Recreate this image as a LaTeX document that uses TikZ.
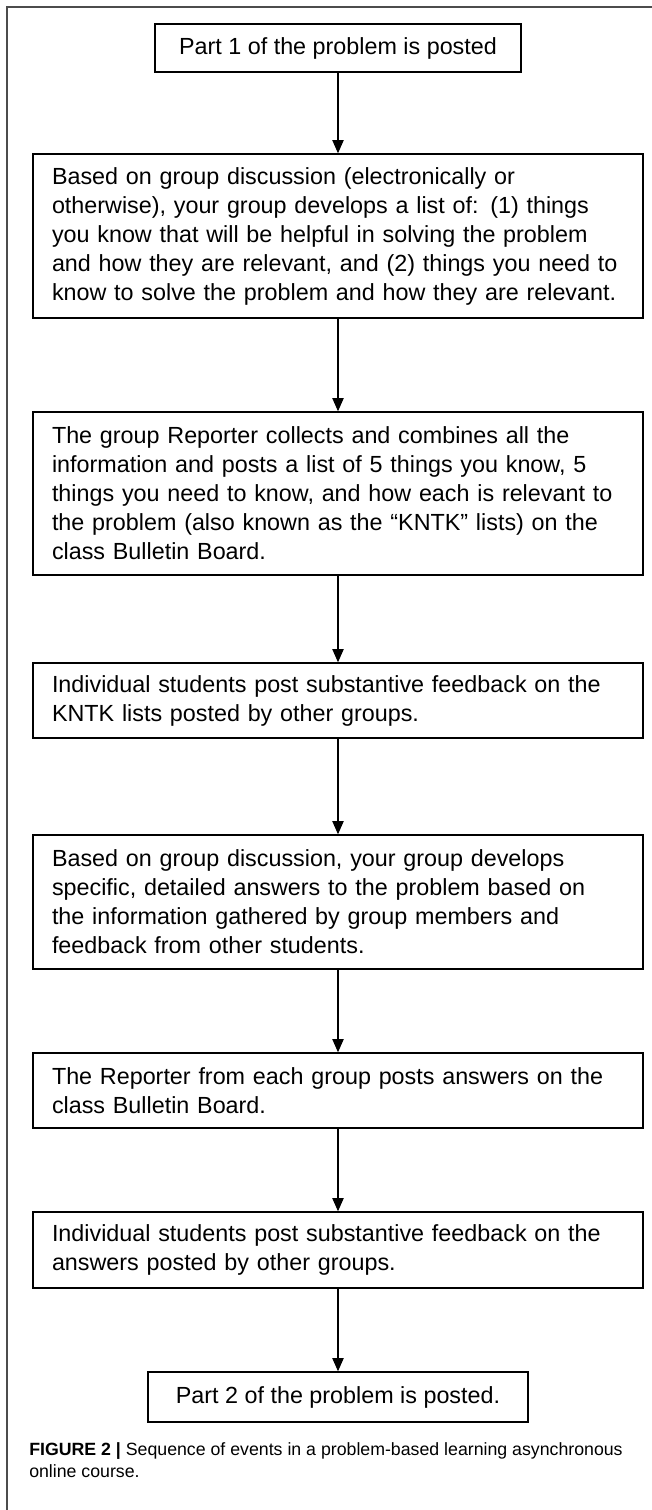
\documentclass[tikz,border=0pt]{standalone}
\usepackage{fontspec}
\setmainfont{Liberation Sans}
\usetikzlibrary{arrows.meta}
\tikzset{
  stepbox/.style={draw, line width=1pt, align=left, text width=429pt,
    inner xsep=14.25pt, inner ysep=0pt,
    font=\fontsize{17.5pt}{21.75pt}\selectfont},
  endbox/.style={draw, line width=1pt, align=center, inner sep=0pt,
    minimum height=36pt, font=\fontsize{17.5pt}{21.75pt}\selectfont},
  flow/.style={-{Triangle[length=10pt,width=8.5pt]}, line width=1pt}
}
\begin{document}
\begin{tikzpicture}[x=0.75pt,y=-0.75pt]
\useasboundingbox (0,0) rectangle (652,1510);
% frame
\draw[line width=0.9pt, black!70] (7,1510) -- (7,7) -- (652,7);
\node[endbox, minimum width=274.5pt] (b1) at (338,48) {Part 1 of the problem is posted};
\node[stepbox, minimum height=123pt] (b2) at (338,236) {Based on group discussion (electronically or\\
otherwise), your group develops a list of: (1) things\\
you know that will be helpful in solving the problem\\
and how they are relevant, and (2) things you need to\\
know to solve the problem and how they are relevant.};
\node[stepbox, minimum height=122.25pt] (b3) at (338,493.5) {The group Reporter collects and combines all the\\
information and posts a list of 5 things you know, 5\\
things you need to know, and how each is relevant to\\
the problem (also known as the “KNTK” lists) on the\\
class Bulletin Board.};
\node[stepbox, minimum height=56.25pt] (b4) at (338,700.5) {Individual students post substantive feedback on the\\
KNTK lists posted by other groups.};
\node[stepbox, minimum height=100.5pt] (b5) at (338,902) {Based on group discussion, your group develops\\
specific, detailed answers to the problem based on\\
the information gathered by group members and\\
feedback from other students.};
\node[stepbox, minimum height=56.25pt] (b6) at (338,1090.5) {The Reporter from each group posts answers on the\\
class Bulletin Board.};
\node[stepbox, minimum height=57pt] (b7) at (338,1250) {Individual students post substantive feedback on the\\
answers posted by other groups.};
\node[endbox, minimum width=285pt, minimum height=37.5pt] (b8) at (338,1397) {Part 2 of the problem is posted.};
\foreach \a/\b in {b1/b2,b2/b3,b3/b4,b4/b5,b5/b6,b6/b7,b7/b8}
  \draw[flow] (\a) -- (\b);
% caption
\node[anchor=base west, align=left, inner sep=0pt,
  font=\fontsize{13.3pt}{16pt}\selectfont] (cap) at (29,1477)
  {\textbf{FIGURE 2 |} Sequence of events in a problem-based learning asynchronous\\
  online course.};
\end{tikzpicture}
\end{document}
